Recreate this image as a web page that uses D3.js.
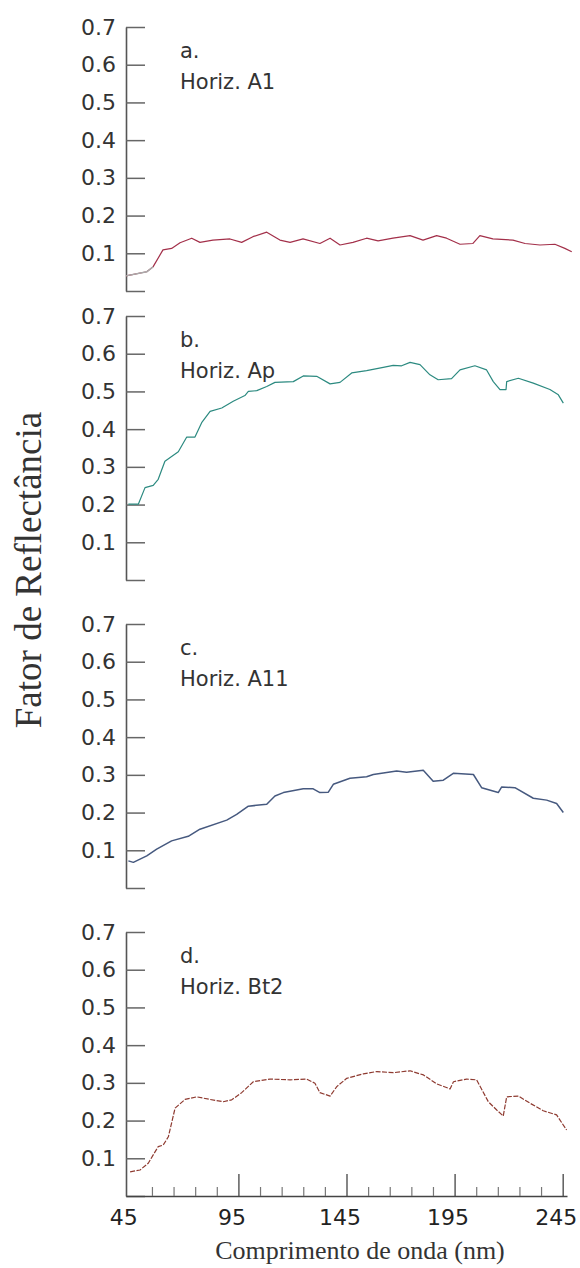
<!DOCTYPE html>
<html>
<head>
<meta charset="utf-8">
<script src="https://cdn.jsdelivr.net/npm/d3@7"></script>
<style>
  html, body { margin: 0; padding: 0; background: #fff; }
  svg { display: block; }
</style>
</head>
<body>
<div id="chart"></div>
<script>
// reflectance curves, [wavelength, factor]
const horizA1 = [[43,0.040],[52.6,0.051],[55.5,0.064],[60.1,0.109],[64.1,0.113],[68,0.128],[73.4,0.140],[77.2,0.129],
  [83.2,0.135],[91.1,0.138],[96.5,0.129],[101.7,0.144],[108.1,0.156],[114.2,0.135],[118.9,0.129],[124.9,0.138],
  [132.7,0.126],[137.4,0.140],[142,0.122],[148,0.129],[154.3,0.140],[159.6,0.133],[166.5,0.140],[174.4,0.147],
  [180.4,0.135],[186.7,0.147],[191.3,0.140],[197.5,0.124],[203.5,0.126],[206.7,0.147],[212.7,0.138],[222,0.135],
  [227.6,0.126],[234.5,0.122],[241.4,0.124],[246,0.113],[249.2,0.104]];

const horizAp = [[44.1,0.201],[48.7,0.201],[51.8,0.245],[55.6,0.251],[57.9,0.267],[61,0.315],[67.2,0.340],[71.1,0.379],
  [74.9,0.379],[78,0.417],[81.9,0.447],[87.3,0.456],[92.6,0.474],[98,0.489],[99.6,0.500],[103.5,0.502],[108.1,0.513],
  [111.9,0.524],[120.4,0.526],[125,0.541],[131.2,0.540],[137.4,0.520],[142,0.524],[147.4,0.549],[154.3,0.555],
  [162,0.564],[166.6,0.569],[170.5,0.568],[174.4,0.577],[179,0.571],[183.6,0.544],[187.4,0.531],[193.6,0.534],
  [197.5,0.557],[204.4,0.568],[209.8,0.557],[212.9,0.526],[216,0.505],[218.8,0.505],[219.1,0.526],[224.5,0.535],
  [231.4,0.522],[239.1,0.505],[243,0.491],[245.3,0.469]];

const horizA11 = [[44.1,0.072],[46.4,0.068],[52.6,0.085],[57.2,0.103],[64.1,0.125],[71.8,0.137],[77.2,0.156],[89.6,0.180],
  [94.2,0.195],[99.6,0.217],[108.1,0.222],[111.9,0.244],[115.8,0.253],[125,0.263],[129.6,0.263],[132.7,0.253],
  [136.6,0.254],[138.9,0.275],[146.6,0.291],[154.3,0.295],[157.4,0.301],[168.2,0.310],[172.8,0.307],[180.5,0.312],
  [185.1,0.283],[189.8,0.286],[194.4,0.304],[203.7,0.301],[207.5,0.266],[215.2,0.253],[216.8,0.268],[222.9,0.266],
  [231.4,0.238],[237.6,0.233],[242.2,0.224],[245.3,0.200]];

const horizBt2 = [[44.9,0.064],[49.5,0.069],[53.3,0.087],[57.9,0.131],[60.2,0.135],[62.6,0.157],[65.7,0.233],[70.3,0.256],
  [75.7,0.263],[81.9,0.256],[88,0.250],[91.9,0.255],[96.5,0.274],[101.9,0.303],[109.6,0.310],[118.9,0.308],
  [126.6,0.310],[130.4,0.299],[132.7,0.274],[137.4,0.265],[140.5,0.290],[145.1,0.312],[152.8,0.324],[159,0.330],
  [166.7,0.327],[174.4,0.332],[180.6,0.321],[186.8,0.297],[192.9,0.284],[194.5,0.303],[200.6,0.310],[205.2,0.308],
  [210.6,0.250],[214.5,0.228],[217.5,0.212],[219.1,0.263],[224.5,0.265],[229.9,0.246],[236,0.226],[242.2,0.215],
  [246.8,0.175]];

const panelLetters = ["a.", "b.", "c.", "d."];
const panelNames = ["Horiz. A1", "Horiz. Ap", "Horiz. A11", "Horiz. Bt2"];
const yTicks = [0, 0.1, 0.2, 0.3, 0.4, 0.5, 0.6, 0.7];
const xLabels = [45, 95, 145, 195, 245];
const xMinor = [55, 65, 75, 85, 105, 115, 125, 135, 155, 165, 175, 185, 205, 215, 225, 235];

const series = [horizA1, horizAp, horizA11, horizBt2];
const colors = ["#a3304a", "#2c8a80", "#46597f", "#8e3a30"];
const tops = [27, 316, 624, 932];
const ph = 264;

const W = 580, H = 1268;
const svg = d3.select("#chart").append("svg")
  .attr("width", W).attr("height", H);

const x = d3.scaleLinear().domain([43, 247]).range([126, 567]);

series.forEach((data, i) => {
  const top = tops[i];
  const y = d3.scaleLinear().domain([0, 0.7]).range([top + ph, top]);

  const g = svg.append("g");

  // y axis, ticks pointing inward
  const ax = g.append("g")
    .attr("transform", `translate(${x.range()[0]},0)`)
    .call(d3.axisLeft(y)
      .tickValues(yTicks)
      .tickSizeInner(-19)
      .tickSizeOuter(0)
      .tickPadding(10)
      .tickFormat(d => d === 0 ? "" : d3.format(".1f")(d)));
  ax.select(".domain").attr("stroke", "#555").attr("stroke-width", 1.6);
  ax.selectAll(".tick line").attr("stroke", "#666").attr("stroke-width", 1.5);
  ax.selectAll(".tick text")
    .attr("font-family", "DejaVu Sans, sans-serif")
    .attr("font-size", 22)
    .attr("fill", "#333");

  // panel labels
  g.append("text")
    .attr("x", 180).attr("y", top + 31)
    .attr("font-family", "DejaVu Sans, sans-serif")
    .attr("font-size", 21).attr("fill", "#333")
    .text(panelLetters[i]);
  g.append("text")
    .attr("x", 180).attr("y", top + 62)
    .attr("font-family", "DejaVu Sans, sans-serif")
    .attr("font-size", 21).attr("fill", "#333")
    .text(panelNames[i]);

  const ln = d3.line().x(d => x(d[0])).y(d => y(d[1]));

  const path = g.append("path")
    .datum(data)
    .attr("fill", "none")
    .attr("stroke", colors[i])
    .attr("stroke-width", i === 2 ? 1.5 : 1.2)
    .attr("stroke-linejoin", "round")
    .attr("d", ln);
  if (i === 3) path.attr("stroke-dasharray", "5,1.5");

  // faded start of the first curve
  if (i === 0) {
    g.append("path")
      .datum(data.slice(0, 3))
      .attr("fill", "none")
      .attr("stroke", "#aaa")
      .attr("stroke-width", 1.4)
      .attr("d", ln);
  }

  if (i === 3) {
    const base = top + ph;
    const minor = g.append("g")
      .attr("transform", `translate(0,${base})`)
      .call(d3.axisBottom(x).tickValues(xMinor).tickSizeInner(-9).tickSizeOuter(0).tickFormat(""));
    minor.select(".domain").attr("stroke", "#444").attr("stroke-width", 1.6);
    minor.selectAll(".tick line").attr("stroke", "#777").attr("stroke-width", 1.2);

    const major = g.append("g")
      .attr("transform", `translate(0,${base})`)
      .call(d3.axisBottom(x).tickValues(xLabels).tickSizeInner(-22).tickSizeOuter(0).tickPadding(13));
    major.select(".domain").remove();
    major.selectAll(".tick line")
      .attr("stroke", "#444").attr("stroke-width", 1.3)
      .attr("display", d => d === 45 ? "none" : null);
    major.selectAll(".tick text")
      .attr("dx", -7)
      .attr("font-family", "DejaVu Sans, sans-serif")
      .attr("font-size", 22)
      .attr("fill", "#222");
  }
});

// axis titles
svg.append("text")
  .attr("transform", "translate(41,570) rotate(-90)")
  .attr("text-anchor", "middle")
  .attr("font-family", "Liberation Serif, serif")
  .attr("font-size", 37)
  .attr("fill", "#333")
  .text("Fator de Reflectância");

svg.append("text")
  .attr("x", 360).attr("y", 1259)
  .attr("text-anchor", "middle")
  .attr("font-family", "Liberation Serif, serif")
  .attr("font-size", 26)
  .attr("fill", "#333")
  .text("Comprimento de onda (nm)");
</script>
</body>
</html>
